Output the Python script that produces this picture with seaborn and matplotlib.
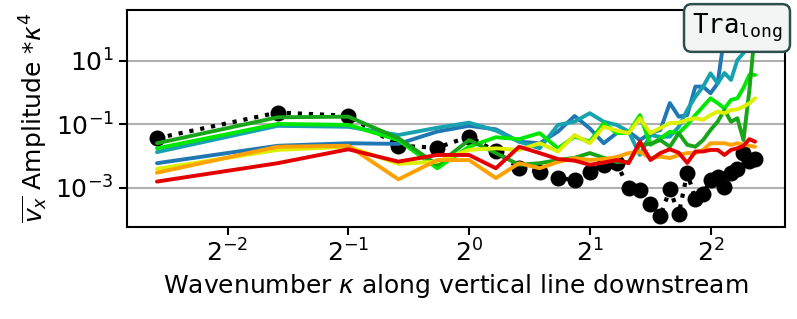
import numpy as np
import pandas as pd
import seaborn as sns
import matplotlib.pyplot as plt
from matplotlib.ticker import NullLocator

sns.set_style("ticks")
plt.rcParams.update({"text.color": "black", "axes.labelcolor": "black",
                     "xtick.color": "black", "ytick.color": "black"})

# wavenumbers along the vertical line
kappa = [0.1667, 0.3333, 0.5, 0.6667, 0.8333, 1.0, 1.1667, 1.3333, 1.5, 1.6667,
         1.8333, 2.0, 2.1667, 2.3333, 2.5, 2.6667, 2.8333, 3.0, 3.1667, 3.3333,
         3.5, 3.6667, 3.8333, 4.0, 4.1667, 4.3333, 4.5, 4.6667, 4.8333, 5.0, 5.1667]

# log10 of amplitude*kappa^4
ref_log = [-1.44, -0.63, -0.73, -1.68, -1.74, -1.39, -1.86, -2.39, -2.50, -2.70,
           -2.76, -2.50, -2.28, -2.23, -3.02, -3.09, -3.53, -3.89, -3.06, -3.83,
           -2.54, -3.36, -3.20, -2.76, -2.68, -2.97, -2.55, -2.42, -1.90, -2.16, -2.10]
blue_log = [-2.23, -1.68, -1.60, -1.62, -1.23, -1.05, -1.16, -1.55, -1.60, -1.23,
            -0.74, -1.13, -1.60, -1.28, -1.23, -1.50, -1.28, -1.18, -0.33, -0.76,
            -0.71, 0.19, 0.19, -0.02, 0.29, 1.82, 2.80, 3.00, 3.30, 3.50, 3.40]
teal_log = [-1.88, -1.05, -1.08, -1.34, -1.11, -0.95, -1.20, -1.55, -1.76, -1.02,
            -0.92, -0.65, -0.92, -1.02, -1.23, -1.97, -1.34, -1.40, -1.39, -1.08,
            -0.55, -0.13, 0.19, 0.61, 0.29, 0.62, 0.40, 1.03, 1.25, 1.66, 2.13]
lime_log = [-1.76, -0.99, -1.02, -1.50, -2.39, -1.71, -1.41, -1.47, -1.28, -1.76,
            -1.39, -1.55, -0.97, -1.28, -1.27, -0.71, -1.65, -1.44, -1.24, -1.28,
            -1.02, -0.71, -0.44, -0.18, -0.33, -0.50, -0.23, -0.18, 0.15, 0.56, 0.56]
green_log = [-1.60, -0.78, -0.76, -1.44, -2.28, -1.50, -1.91, -2.28, -2.23, -2.13,
             -2.06, -1.91, -2.06, -2.19, -2.19, -1.65, -1.62, -1.50, -1.71, -1.28,
             -1.65, -1.71, -1.50, -1.18, -0.92, -0.55, -0.92, -0.81, -1.50, 0.08, 1.98]
yellow_log = [-2.41, -1.81, -1.71, -2.25, -2.18, -1.81, -1.76, -1.81, -1.60, -1.86,
              -1.34, -1.60, -1.08, -1.20, -1.28, -0.81, -1.28, -1.12, -0.96, -0.95,
              -0.86, -0.81, -0.86, -0.71, -0.60, -0.65, -0.55, -0.53, -0.44, -0.34, -0.18]
orange_log = [-2.53, -1.71, -1.68, -2.74, -2.13, -2.13, -2.70, -2.23, -2.39, -2.19,
              -2.07, -2.13, -2.10, -2.04, -1.91, -1.87, -2.07, -2.02, -2.07, -1.97,
              -1.91, -1.91, -1.81, -1.60, -1.60, -1.60, -1.65, -1.60, -1.65, -1.68, -1.71]
red_log = [-2.81, -2.23, -1.79, -2.18, -1.97, -1.97, -2.39, -1.71, -1.91, -2.10,
           -2.15, -2.28, -2.21, -2.13, -2.23, -1.55, -2.13, -1.91, -1.79, -1.90,
           -2.22, -1.86, -1.86, -1.81, -1.81, -1.97, -1.81, -1.76, -1.68, -1.47, -1.55]

series = ["blue", "teal", "lime", "green", "yellow", "orange", "red"]
colors = ["#1f77b4", "#17a2b0", "#00e800", "#19a519", "#ddf000", "#ffa200", "#e40000"]
logs = [blue_log, teal_log, lime_log, green_log, yellow_log, orange_log, red_log]

df = pd.concat([pd.DataFrame({"k": kappa, "amp": 10.0 ** np.array(v), "s": s})
                for s, v in zip(series, logs)])
df_ref = pd.DataFrame({"k": kappa, "amp": 10.0 ** np.array(ref_log)})

fig = plt.figure(figsize=(7.97, 3.19), dpi=100)
ax = fig.add_axes([127 / 797, 1 - 226.5 / 319, 658 / 797, 216.5 / 319])

sns.lineplot(data=df_ref, x="k", y="amp", ax=ax, color="black", ls=":", lw=3,
             marker="o", markersize=11.5, markeredgewidth=0, zorder=2)
sns.lineplot(data=df, x="k", y="amp", hue="s", palette=dict(zip(series, colors)),
             ax=ax, lw=2.8, legend=False, zorder=3)

ax.set_xscale("log", base=2)
ax.set_yscale("log")
ax.set_xlim(2 ** -2.833, 2 ** 2.617)
ax.set_ylim(10 ** -4.23, 10 ** 2.61)
ax.set_yticks([1e-3, 1e-1, 1e1])
ax.yaxis.set_minor_locator(NullLocator())
ax.xaxis.set_minor_locator(NullLocator())
ax.yaxis.grid(True, color="#b0b0b0", lw=1.5)
ax.set_axisbelow(True)

for sp in ax.spines.values():
    sp.set_color("black")
    sp.set_linewidth(1.5)
ax.tick_params(labelsize=18, length=6, width=1.5, color="black")

ax.set_xlabel(r"Wavenumber $\kappa$ along vertical line downstream", fontsize=18)
ax.set_ylabel(r"$\overline{v_x}$ Amplitude *$\kappa^4$", fontsize=18)

fig.text(737 / 797, 1 - 28 / 319, r"$\mathtt{Tra}_{\mathtt{long}}$", fontsize=18.5,
         ha="center", va="center",
         bbox=dict(boxstyle="round,pad=0.3", fc="#f3f5f5", ec="#2f4f4f", lw=1.8))

fig.savefig("out.png", dpi=100)
